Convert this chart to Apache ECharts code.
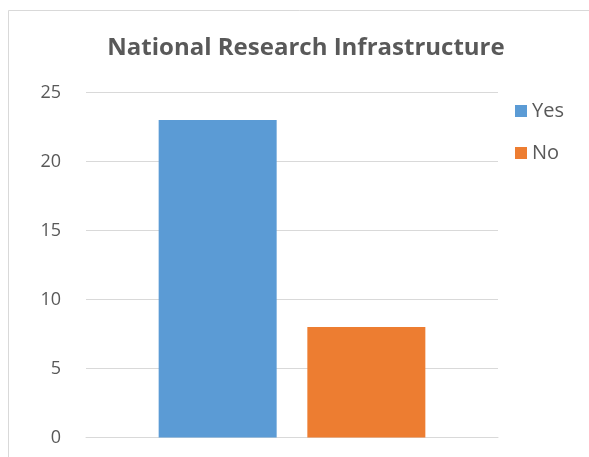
<!DOCTYPE html>
<html>
<head>
<meta charset="utf-8">
<script src="https://cdn.jsdelivr.net/npm/echarts@6/dist/echarts.min.js"></script>
<style>html,body{margin:0;padding:0;background:#fff;}#c{width:589px;height:457px;}</style>
</head>
<body>
<div id="c"></div>
<script>
const categories = ['National Research Infrastructure'];
const seriesNames = ['Yes', 'No'];
const yesValues = [23];
const noValues = [8];
const colors = ['#5B9BD5', '#ED7D31'];
const yTicks = [0, 5, 10, 15, 20, 25];

const chart = echarts.init(document.getElementById('c'), null, {renderer: 'canvas'});
const font = '"Open Sans", "Noto Sans", sans-serif';
chart.setOption({
  animation: false,
  backgroundColor: '#fff',
  title: {
    text: 'National Research Infrastructure',
    left: 301, top: 31, textAlign: 'center',
    textStyle: {fontFamily: font, fontWeight: 'bold', fontSize: 24, color: '#595959'}
  },
  legend: {
    orient: 'vertical', left: 510, top: 96,
    itemWidth: 12, itemHeight: 12, itemGap: 22,
    icon: 'rect',
    data: seriesNames,
    textStyle: {fontFamily: font, fontSize: 20, lineHeight: 20, color: '#595959', padding: [0, 0, 0, 0]}
  },
  grid: {left: 86, right: 91, top: 92.5, bottom: 19.5, containLabel: false},
  xAxis: {
    type: 'category', data: categories,
    axisLine: {show: true, lineStyle: {color: '#d9d9d9', width: 1}},
    axisTick: {show: false}, axisLabel: {show: false}
  },
  yAxis: {
    type: 'value', min: yTicks[0], max: yTicks[yTicks.length - 1], interval: 5,
    axisLine: {show: false}, axisTick: {show: false},
    splitLine: {lineStyle: {color: '#d9d9d9', width: 1}},
    axisLabel: {margin: 25, fontFamily: font, fontSize: 18, color: '#595959'}
  },
  graphic: [{
    type: 'rect', shape: {x: 8.5, y: 10.5, width: 800, height: 800},
    style: {fill: 'none', stroke: '#d9d9d9', lineWidth: 1}, silent: true, z: -1
  }],
  series: [
    {name: seriesNames[0], type: 'bar', data: yesValues, barWidth: 118, barGap: '26%', itemStyle: {color: colors[0]}},
    {name: seriesNames[1], type: 'bar', data: noValues, barWidth: 118, barGap: '26%', itemStyle: {color: colors[1]}}
  ]
});
</script>
</body>
</html>
